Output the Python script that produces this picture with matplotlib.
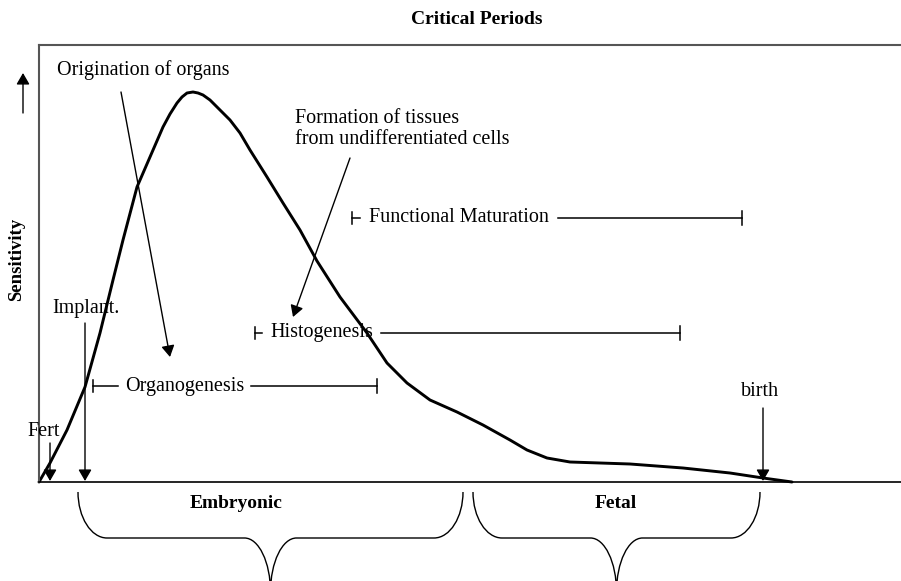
import matplotlib.pyplot as plt
from matplotlib.path import Path
from matplotlib.patches import PathPatch

plt.rcParams['font.family'] = ['Liberation Serif', 'DejaVu Serif']

# sensitivity curve over gestation (arbitrary units)
curve_x = [0, 11, 28, 46, 61, 74, 84, 98, 111, 124, 131, 138, 143, 148, 154, 159, 164, 171, 178,
           191, 201, 211, 228, 244, 261, 278, 301, 328, 348, 368, 391, 418, 444, 471, 488, 508,
           531, 591, 644, 691, 724, 753]
curve_y = [0, 19, 52, 95, 149, 202, 242, 295, 325, 355, 368, 379, 385, 389, 390, 389, 387, 382, 375,
           362, 349, 332, 305, 279, 252, 221, 185, 149, 119, 99, 82, 70, 57, 42, 32, 24,
           20, 18, 14, 9, 4, 0]

# events marked with arrows: name, x, arrow top, label position
events = ['Fert', 'Implant.', 'birth']
event_x = [11, 46, 724]
event_top = [39, 159, 74]
event_label_x = [5, 47, 721]
event_label_y = [50, 174, 90]

# developmental periods: name, start, end, height, stub length, text start, line start
periods = ['Organogenesis', 'Histogenesis', 'Functional Maturation']
period_start = [54, 216, 313]
period_end = [338, 641, 703]
period_y = [96, 149, 264]
period_stub = [25, 7, 8]
period_text_x = [86, 231, 330]
period_line_x = [212, 342, 519]

# stages shown with braces under the axis
stages = ['Embryonic', 'Fetal']
stage_left = [39, 434]
stage_right = [424, 721]
stage_label_x = [197, 577]

fig = plt.figure(figsize=(9.01, 5.81), dpi=100)
ax = fig.add_axes([39/901, 99/581, 862/901, 437/581])
ax.set_xlim(0, 862)
ax.set_ylim(0, 437)
ax.set_xticks([])
ax.set_yticks([])
ax.spines['right'].set_visible(False)
ax.spines['left'].set_color('#555555')
ax.spines['top'].set_color('#555555')
ax.spines['left'].set_linewidth(1.5)
ax.spines['top'].set_linewidth(1.5)
ax.spines['bottom'].set_color('black')
ax.spines['bottom'].set_linewidth(1.2)

ax.plot(curve_x, curve_y, color='black', lw=2.1, solid_joinstyle='round', solid_capstyle='round', clip_on=False)

arrow = dict(arrowstyle='-|>,head_length=0.38,head_width=0.22', mutation_scale=18, lw=1.0,
             color='black', shrinkA=0, shrinkB=0)
fs = 14.5

for name, x, top, lx, ly in zip(events, event_x, event_top, event_label_x, event_label_y):
    ax.annotate('', xy=(x, 1), xytext=(x, top), arrowprops=arrow)
    ax.text(lx, ly, name, ha='center', va='center', fontsize=fs)

for name, x0, x1, y, stub, tx, lx in zip(periods, period_start, period_end, period_y,
                                         period_stub, period_text_x, period_line_x):
    ax.plot([x0, x0], [y - 6, y + 6], color='black', lw=1.1)
    ax.plot([x0, x0 + stub], [y, y], color='black', lw=1.1)
    ax.text(tx, y, name, ha='left', va='center', fontsize=fs)
    ax.plot([lx, x1], [y, y], color='black', lw=1.1)
    ax.plot([x1, x1], [y - 7, y + 7], color='black', lw=1.1)

# descriptive callouts
ax.text(18, 412, 'Origination of organs', ha='left', va='center', fontsize=fs)
ax.annotate('', xy=(131, 125), xytext=(82, 390), arrowprops=arrow)
ax.text(256, 353, 'Formation of tissues\nfrom undifferentiated cells', ha='left', va='center',
        fontsize=fs, linespacing=1.1)
ax.annotate('', xy=(254, 165), xytext=(311, 324), arrowprops=arrow)

# braces below the axis
k = 0.55
y_top, y_flat, y_tip = -10, -56, -110
r_end, r_mid = 29, 26
for name, x0, x1, lx in zip(stages, stage_left, stage_right, stage_label_x):
    xm = (x0 + x1) / 2
    ry_end = y_top - y_flat
    ry_mid = y_flat - y_tip
    verts = [(x0, y_top),
             (x0, y_top - k*ry_end), (x0 + r_end - k*r_end, y_flat), (x0 + r_end, y_flat),
             (xm - r_mid, y_flat),
             (xm - r_mid + k*r_mid, y_flat), (xm, y_tip + k*ry_mid), (xm, y_tip),
             (xm, y_tip + k*ry_mid), (xm + r_mid - k*r_mid, y_flat), (xm + r_mid, y_flat),
             (x1 - r_end, y_flat),
             (x1 - r_end + k*r_end, y_flat), (x1, y_top - k*ry_end), (x1, y_top)]
    codes = [Path.MOVETO, Path.CURVE4, Path.CURVE4, Path.CURVE4, Path.LINETO,
             Path.CURVE4, Path.CURVE4, Path.CURVE4, Path.CURVE4, Path.CURVE4, Path.CURVE4,
             Path.LINETO, Path.CURVE4, Path.CURVE4, Path.CURVE4]
    ax.add_patch(PathPatch(Path(verts, codes), facecolor='none', edgecolor='black', lw=1.0, clip_on=False))
    ax.text(lx, -22, name, ha='center', va='center', fontsize=14, fontweight='bold')

# axis label and title
ax.annotate('', xy=(-16, 409), xytext=(-16, 369), arrowprops=arrow, annotation_clip=False)
ax.text(-22, 223, 'Sensitivity', rotation=90, ha='center', va='center', fontsize=13.5, fontweight='bold')
ax.text(438, 462, 'Critical Periods', ha='center', va='center', fontsize=14, fontweight='bold')

plt.savefig('out.png', dpi=100)
